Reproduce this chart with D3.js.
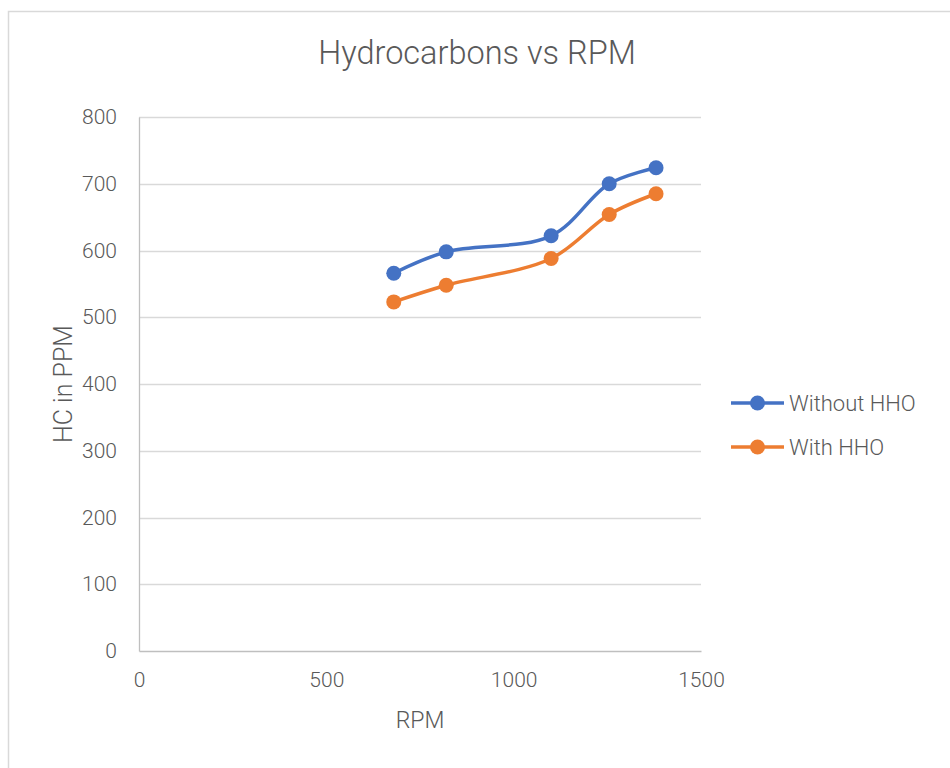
<!DOCTYPE html>
<html>
<head>
<meta charset="utf-8">
<script src="https://cdn.jsdelivr.net/npm/d3@7"></script>
<style>
  body { margin: 0; background: #fff; }
  text { font-family: Roboto, "Liberation Sans", sans-serif; font-weight: 300; fill: #595959; }
</style>
</head>
<body>
<div id="chart"></div>
<script>
const rpm = [680, 820, 1100, 1255, 1380];
const withoutHHO = [566, 598, 622, 700, 724];
const withHHO = [523, 548, 588, 654, 685];
const seriesNames = ["Without HHO", "With HHO"];
const seriesColors = ["#4472C4", "#ED7D31"];
const xTicks = [0, 500, 1000, 1500];
const yTicks = [0, 100, 200, 300, 400, 500, 600, 700, 800];

const width = 950, height = 768;
const plot = { left: 139, right: 701, top: 117, bottom: 651 };

const svg = d3.select("#chart").append("svg")
  .attr("width", width)
  .attr("height", height);

// chart border
svg.append("rect")
  .attr("x", 8.5).attr("y", 11.5)
  .attr("width", 950).attr("height", 770)
  .attr("fill", "none")
  .attr("stroke", "#d9d9d9")
  .attr("stroke-width", 1.5);

const x = d3.scaleLinear().domain([0, 1500]).range([plot.left, plot.right]);
const y = d3.scaleLinear().domain([0, 800]).range([plot.bottom, plot.top]);

// gridlines
svg.append("g")
  .selectAll("line")
  .data(yTicks.filter(d => d > 0))
  .join("line")
  .attr("x1", plot.left).attr("x2", plot.right)
  .attr("y1", d => Math.round(y(d)) + 0.5).attr("y2", d => Math.round(y(d)) + 0.5)
  .attr("stroke", "#d9d9d9")
  .attr("stroke-width", 1.3);

// axes
const yAxis = svg.append("g")
  .attr("transform", `translate(${plot.left},0)`)
  .call(d3.axisLeft(y).tickValues(yTicks).tickSize(0).tickPadding(22));
yAxis.select(".domain").attr("stroke", "#bfbfbf").attr("stroke-width", 1.3);
yAxis.selectAll("text").style("font-size", "21px");

const xAxis = svg.append("g")
  .attr("transform", `translate(0,${plot.bottom})`)
  .call(d3.axisBottom(x).tickValues(xTicks).tickFormat(d3.format("d")).tickSize(0).tickPadding(21));
xAxis.select(".domain").attr("stroke", "#bfbfbf").attr("stroke-width", 1.3);
xAxis.selectAll("text").style("font-size", "21px");

// title and axis labels
svg.append("text")
  .attr("x", 477).attr("y", 64)
  .attr("text-anchor", "middle")
  .style("font-size", "32.5px")
  .text("Hydrocarbons vs RPM");

svg.append("text")
  .attr("x", 420).attr("y", 728)
  .attr("text-anchor", "middle")
  .style("font-size", "23px")
  .text("RPM");

svg.append("text")
  .attr("transform", `translate(72,384) rotate(-90)`)
  .attr("text-anchor", "middle")
  .style("font-size", "25px")
  .text("HC in PPM");

// series
const series = [withoutHHO, withHHO].map((vals, i) => ({
  name: seriesNames[i],
  color: seriesColors[i],
  points: vals.map((v, j) => ({ x: rpm[j], y: v }))
}));

const line = d3.line()
  .x(d => x(d.x))
  .y(d => y(d.y))
  .curve(d3.curveCatmullRom.alpha(0.5));

const g = svg.append("g");
series.forEach(s => {
  g.append("path")
    .datum(s.points)
    .attr("d", line)
    .attr("fill", "none")
    .attr("stroke", s.color)
    .attr("stroke-width", 3.5)
    .attr("stroke-linecap", "round");
  g.selectAll(null)
    .data(s.points)
    .join("circle")
    .attr("cx", d => x(d.x))
    .attr("cy", d => y(d.y))
    .attr("r", 7.5)
    .attr("fill", s.color);
});

// legend
const legend = svg.append("g");
series.forEach((s, i) => {
  const ly = 403 + i * 44;
  legend.append("line")
    .attr("x1", 731).attr("x2", 784)
    .attr("y1", ly).attr("y2", ly)
    .attr("stroke", s.color)
    .attr("stroke-width", 3.5);
  legend.append("circle")
    .attr("cx", 757.5).attr("cy", ly)
    .attr("r", 7.5)
    .attr("fill", s.color);
  legend.append("text")
    .attr("x", 789).attr("y", ly)
    .attr("dy", "0.35em")
    .style("font-size", "22px")
    .text(s.name);
});
</script>
</body>
</html>
